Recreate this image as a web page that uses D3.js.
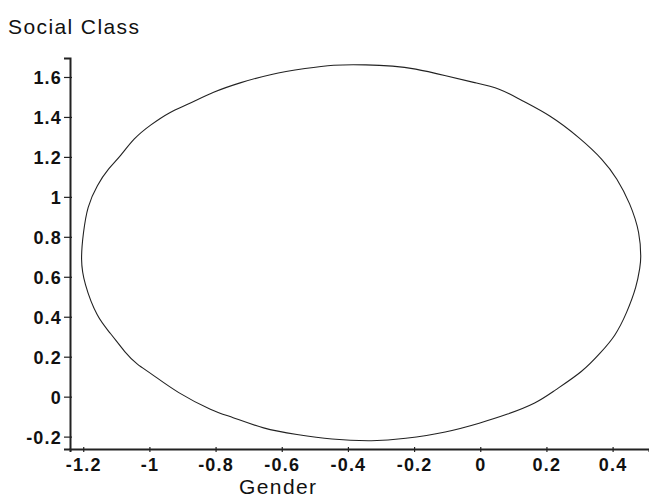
<!DOCTYPE html>
<html>
<head>
<meta charset="utf-8">
<script src="https://cdn.jsdelivr.net/npm/d3@7/dist/d3.min.js"></script>
<style>
  html, body { margin: 0; padding: 0; background: #fff; }
  svg { display: block; }
  .tick text { font-family: "Liberation Sans", Arial, sans-serif; font-weight: bold; font-size: 18px; letter-spacing: 1.2px; fill: #111; }
  .title { font-family: "Liberation Sans", Arial, sans-serif; font-size: 21px; letter-spacing: 1.4px; fill: #111; }
</style>
</head>
<body>
<svg id="chart" width="649" height="498"></svg>
<script>
// Axis extents and tick values
const xDomain = [-1.24, 0.51];
const yDomain = [-0.262, 1.695];
const xTicks = [-1.2, -1, -0.8, -0.6, -0.4, -0.2, 0, 0.2, 0.4];
const yTicks = [-0.2, 0, 0.2, 0.4, 0.6, 0.8, 1, 1.2, 1.4, 1.6];

// Outline of the region, traced clockwise from the top (Gender, Social Class)
const gender = [
  -0.448, -0.342, -0.262, -0.202, -0.101, -0.020, 0.060, 0.121, 0.211, 0.302,
  0.372, 0.413, 0.453, 0.483, 0.486, 0.483, 0.473, 0.443, 0.408, 0.363,
  0.312, 0.221, 0.171, 0.081, 0.000, -0.101, -0.232, -0.322, -0.453, -0.554,
  -0.655, -0.755, -0.806, -0.916, -0.997, -1.037, -1.073, -1.118, -1.158, -1.198,
  -1.208, -1.200, -1.188, -1.158, -1.123, -1.088, -1.047, -0.997, -0.937, -0.886,
  -0.806, -0.725, -0.634, -0.524
];
const socialClass = [
  1.662, 1.662, 1.655, 1.644, 1.605, 1.572, 1.544, 1.485, 1.410, 1.294,
  1.185, 1.094, 0.969, 0.819, 0.685, 0.652, 0.552, 0.419, 0.302, 0.219,
  0.127, 0.027, -0.032, -0.090, -0.132, -0.179, -0.212, -0.224, -0.215, -0.190,
  -0.162, -0.099, -0.074, 0.019, 0.119, 0.160, 0.219, 0.319, 0.394, 0.569,
  0.685, 0.819, 0.952, 1.060, 1.144, 1.202, 1.294, 1.360, 1.427, 1.460,
  1.527, 1.572, 1.615, 1.644
];

const svg = d3.select("#chart");

const x = d3.scaleLinear().domain(xDomain).range([70, 649]);
const y = d3.scaleLinear().domain(yDomain).range([449, 58]);

const fmt = d => String(+d.toFixed(1));

// Y axis
const gy = svg.append("g")
  .attr("transform", "translate(70,0)")
  .call(d3.axisLeft(y).tickValues(yTicks).tickFormat(fmt).tickSizeOuter(0).tickSize(6).tickPadding(2));
gy.select(".domain").attr("stroke", "#222").attr("stroke-width", 2);
gy.selectAll(".tick line").attr("stroke", "#222").attr("stroke-width", 1.2).attr("x1", 2).attr("x2", -6);
gy.selectAll(".tick text").attr("dy", "0.36em");

// X axis
const gx = svg.append("g")
  .attr("transform", "translate(0,449)")
  .call(d3.axisBottom(x).tickValues(xTicks).tickFormat(fmt).tickSizeOuter(0).tickSize(3).tickPadding(6));
gx.select(".domain").attr("stroke", "#222").attr("stroke-width", 2);
gx.selectAll(".tick line").attr("stroke", "#222").attr("stroke-width", 1.2).attr("y1", -2).attr("y2", 3);

// Region outline
const pts = gender.map((g, i) => [g, socialClass[i]]);
const line = d3.line()
  .x(d => x(d[0]))
  .y(d => y(d[1]))
  .curve(d3.curveBasisClosed);
svg.append("path")
  .datum(pts)
  .attr("d", line)
  .attr("fill", "none")
  .attr("stroke", "#222")
  .attr("stroke-width", 1.1);

// Axis titles
svg.append("text").attr("class", "title").attr("x", 8).attr("y", 34).text("Social Class");
svg.append("text").attr("class", "title").attr("x", 239).attr("y", 494).text("Gender");
</script>
</body>
</html>
